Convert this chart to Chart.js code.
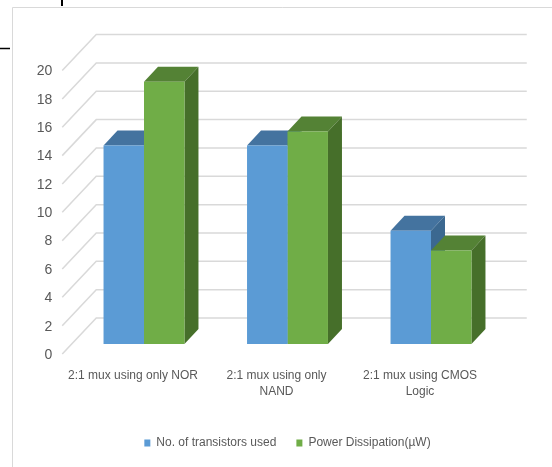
<!DOCTYPE html>
<html>
<head>
<meta charset="utf-8">
<script src="https://cdn.jsdelivr.net/npm/chart.js@4/dist/chart.umd.min.js"></script>
<style>
  html, body { margin: 0; padding: 0; background: #fff; }
  canvas { display: block; }
</style>
</head>
<body>
<canvas id="chart" width="552" height="467"></canvas>
<script>
"use strict";

// data
const CATEGORIES = [
  ["2:1 mux using only NOR"],
  ["2:1 mux using only", "NAND"],
  ["2:1 mux using CMOS", "Logic"],
];
const TRANSISTORS = [14, 14, 8];
const POWER = [18.5, 15, 6.6];
const SERIES = ["No. of transistors used", "Power Dissipation(\u00b5W)"];
const Y_MIN = 0, Y_MAX = 20, Y_STEP = 2;

// look
const FONT = '"Liberation Sans Narrow", "Arial Narrow", "Liberation Sans", Arial, sans-serif';
const TEXT = "#595959";
const GRID = "#d9d9d9";
const FRONT = ["#5b9bd5", "#70ad47"];
const TOP = ["#44739f", "#548235"];
const SIDE = ["#3b6890", "#466f2a"];
const DX = 14, DY = -15;                 // bar depth
const WALL_DX = 24, WALL_DY = -26;       // back wall offset from bar face
const FLOOR_DX = -10, FLOOR_DY = 10;     // front edge of side wall

function poly(ctx, pts, color) {
  ctx.beginPath();
  ctx.moveTo(pts[0][0], pts[0][1]);
  for (let i = 1; i < pts.length; i++) ctx.lineTo(pts[i][0], pts[i][1]);
  ctx.closePath();
  ctx.fillStyle = color;
  ctx.fill();
}

const depth = {
  id: "depth",
  beforeDraw(chart) {
    const { ctx, chartArea: a, scales: { y } } = chart;
    ctx.save();
    ctx.fillStyle = "#fff";
    ctx.fillRect(0, 0, chart.width, chart.height);
    // outer frame
    ctx.strokeStyle = GRID; ctx.lineWidth = 1;
    ctx.beginPath();
    ctx.moveTo(12.5, chart.height); ctx.lineTo(12.5, 7.5); ctx.lineTo(chart.width, 7.5);
    ctx.stroke();
    // stray black marks at the top left
    ctx.strokeStyle = "#000";
    ctx.lineWidth = 2;
    ctx.beginPath(); ctx.moveTo(62, 0); ctx.lineTo(62, 6); ctx.stroke();
    ctx.lineWidth = 1.5;
    ctx.beginPath(); ctx.moveTo(0, 48.5); ctx.lineTo(10, 48.5); ctx.stroke();
    // side wall + back wall grid
    ctx.strokeStyle = GRID; ctx.lineWidth = 1.5;
    for (const t of y.ticks) {
      const py = y.getPixelForValue(t.value);
      ctx.beginPath();
      ctx.moveTo(a.left + FLOOR_DX, py + FLOOR_DY);
      ctx.lineTo(a.left + WALL_DX, py + WALL_DY);
      ctx.lineTo(a.right + WALL_DX, py + WALL_DY);
      ctx.stroke();
    }
    ctx.restore();
  },
  beforeDatasetsDraw(chart) {
    const ctx = chart.ctx;
    ctx.save();
    chart.data.datasets.forEach((ds, i) => {
      chart.getDatasetMeta(i).data.forEach((bar) => {
        const { x, y, base, width } = bar.getProps(["x", "y", "base", "width"], true);
        const l = x - width / 2, r = x + width / 2;
        poly(ctx, [[l, y], [r, y], [r + DX, y + DY], [l + DX, y + DY]], TOP[i]);
        poly(ctx, [[r, y], [r + DX, y + DY], [r + DX, base + DY], [r, base]], SIDE[i]);
      });
    });
    ctx.restore();
  },
};

new Chart(document.getElementById("chart"), {
  type: "bar",
  data: {
    labels: CATEGORIES,
    datasets: [
      { label: SERIES[0], data: TRANSISTORS, backgroundColor: FRONT[0] },
      { label: SERIES[1], data: POWER, backgroundColor: FRONT[1] },
    ],
  },
  options: {
    responsive: false,
    animation: false,
    devicePixelRatio: 1,
    categoryPercentage: 0.564,
    barPercentage: 1,
    layout: { padding: { top: 60.6, right: 49.25, left: 0, bottom: 8 } },
    plugins: {
      tooltip: { enabled: false },
      legend: {
        position: "bottom",
        fullSize: false,
        labels: {
          boxWidth: 6, boxHeight: 7, padding: 20, color: TEXT,
          font: { size: 12, family: FONT },
        },
      },
    },
    scales: {
      x: {
        grid: { display: false, drawTicks: false },
        border: { display: false },
        afterFit: (s) => { s.height = 73; },
        ticks: {
          color: TEXT, padding: 24, labelOffset: -11, maxRotation: 0, autoSkip: false,
          font: { size: 12, family: FONT, lineHeight: 1.3 },
        },
      },
      y: {
        min: Y_MIN, max: Y_MAX,
        grid: { display: false, drawTicks: false },
        border: { display: false },
        afterFit: (s) => { s.width = 72.25; },
        ticks: {
          stepSize: Y_STEP, color: TEXT, padding: 20, labelOffset: 11,
          font: { size: 14, family: FONT },
        },
      },
    },
  },
  plugins: [depth],
});
</script>
</body>
</html>
